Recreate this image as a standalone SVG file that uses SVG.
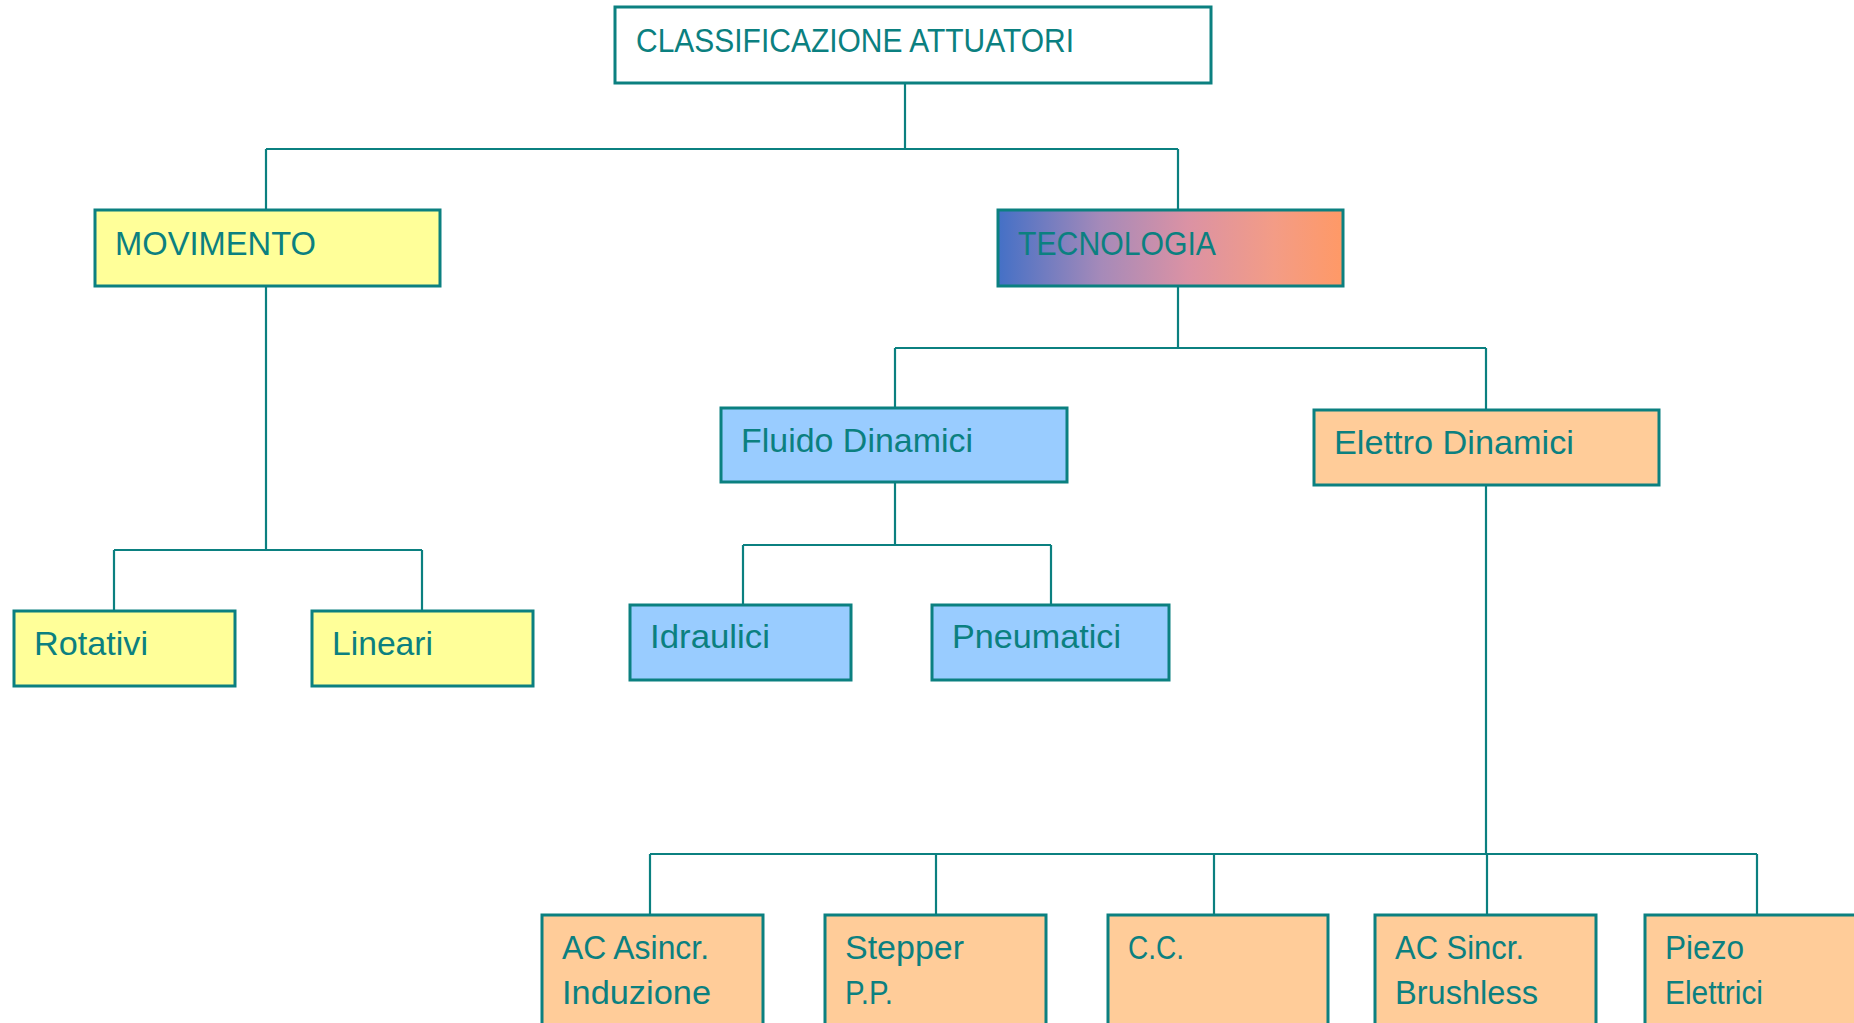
<svg xmlns="http://www.w3.org/2000/svg" width="1854" height="1023" viewBox="0 0 1854 1023">
<style>
.box{stroke:#0B8080;stroke-width:3}
.w{fill:#FFFFFF}
.y{fill:#FFFF99}
.b{fill:#99CCFF}
.o{fill:#FFCC99}
.t{font-family:"Liberation Sans",Arial,sans-serif;font-size:33px;fill:#0B8080}
.c{stroke:#0B8080;stroke-width:2.2;fill:none}
</style>
<defs>
<linearGradient id="grad" x1="0" y1="0" x2="1" y2="0">
<stop offset="0" stop-color="#4470C6"/>
<stop offset="0.3" stop-color="#A68AB9"/>
<stop offset="0.55" stop-color="#DB92A4"/>
<stop offset="0.8" stop-color="#F39C86"/>
<stop offset="1" stop-color="#FF9966"/>
</linearGradient>
</defs>
<rect width="1854" height="1023" fill="#FFFFFF"/>
<g id="connectors">
<path class="c" d="M905 83V149M266 149H1178M266 149V210M1178 149V210"/>
<path class="c" d="M266 286V550M114 550H422M114 550V611M422 550V611"/>
<path class="c" d="M1178 286V348M895 348H1486M895 348V408M1486 348V410"/>
<path class="c" d="M895 482V545M743 545H1051M743 545V605M1051 545V605"/>
<path class="c" d="M1486 485V854M650 854H1757M650 854V915M936 854V915M1214 854V915M1487 854V915M1757 854V915"/>
</g>
<g id="n-root"><rect class="box w" x="615" y="7" width="596" height="76"/><text class="t" x="636" y="52" textLength="438" lengthAdjust="spacingAndGlyphs">CLASSIFICAZIONE ATTUATORI</text></g>
<g id="n-movimento"><rect class="box y" x="95" y="210" width="345" height="76"/><text class="t" x="115" y="255" textLength="201" lengthAdjust="spacingAndGlyphs">MOVIMENTO</text></g>
<g id="n-tecnologia"><rect class="box" fill="url(#grad)" x="998" y="210" width="345" height="76"/><text class="t" x="1018" y="255" textLength="198" lengthAdjust="spacingAndGlyphs">TECNOLOGIA</text></g>
<g id="n-rotativi"><rect class="box y" x="14" y="611" width="221" height="75"/><text class="t" x="34" y="655" textLength="114" lengthAdjust="spacingAndGlyphs">Rotativi</text></g>
<g id="n-lineari"><rect class="box y" x="312" y="611" width="221" height="75"/><text class="t" x="332" y="655" textLength="101" lengthAdjust="spacingAndGlyphs">Lineari</text></g>
<g id="n-fluido"><rect class="box b" x="721" y="408" width="346" height="74"/><text class="t" x="741" y="452" textLength="232" lengthAdjust="spacingAndGlyphs">Fluido Dinamici</text></g>
<g id="n-elettro"><rect class="box o" x="1314" y="410" width="345" height="75"/><text class="t" x="1334" y="454" textLength="240" lengthAdjust="spacingAndGlyphs">Elettro Dinamici</text></g>
<g id="n-idraulici"><rect class="box b" x="630" y="605" width="221" height="75"/><text class="t" x="650" y="648" textLength="120" lengthAdjust="spacingAndGlyphs">Idraulici</text></g>
<g id="n-pneumatici"><rect class="box b" x="932" y="605" width="237" height="75"/><text class="t" x="952" y="648" textLength="169" lengthAdjust="spacingAndGlyphs">Pneumatici</text></g>
<g id="n-acasincr"><rect class="box o" x="542" y="915" width="221" height="130"/><text class="t" x="562" y="959" textLength="147" lengthAdjust="spacingAndGlyphs">AC Asincr.</text><text class="t" x="562" y="1004" textLength="149" lengthAdjust="spacingAndGlyphs">Induzione</text></g>
<g id="n-stepper"><rect class="box o" x="825" y="915" width="221" height="130"/><text class="t" x="845" y="959" textLength="119" lengthAdjust="spacingAndGlyphs">Stepper</text><text class="t" x="845" y="1004" textLength="48" lengthAdjust="spacingAndGlyphs">P.P.</text></g>
<g id="n-cc"><rect class="box o" x="1108" y="915" width="220" height="130"/><text class="t" x="1128" y="959" textLength="56" lengthAdjust="spacingAndGlyphs">C.C.</text></g>
<g id="n-acsincr"><rect class="box o" x="1375" y="915" width="221" height="130"/><text class="t" x="1395" y="959" textLength="129" lengthAdjust="spacingAndGlyphs">AC Sincr.</text><text class="t" x="1395" y="1004" textLength="143" lengthAdjust="spacingAndGlyphs">Brushless</text></g>
<g id="n-piezo"><rect class="box o" x="1645" y="915" width="230" height="130"/><text class="t" x="1665" y="959" textLength="79" lengthAdjust="spacingAndGlyphs">Piezo</text><text class="t" x="1665" y="1004" textLength="98" lengthAdjust="spacingAndGlyphs">Elettrici</text></g>
</svg>
